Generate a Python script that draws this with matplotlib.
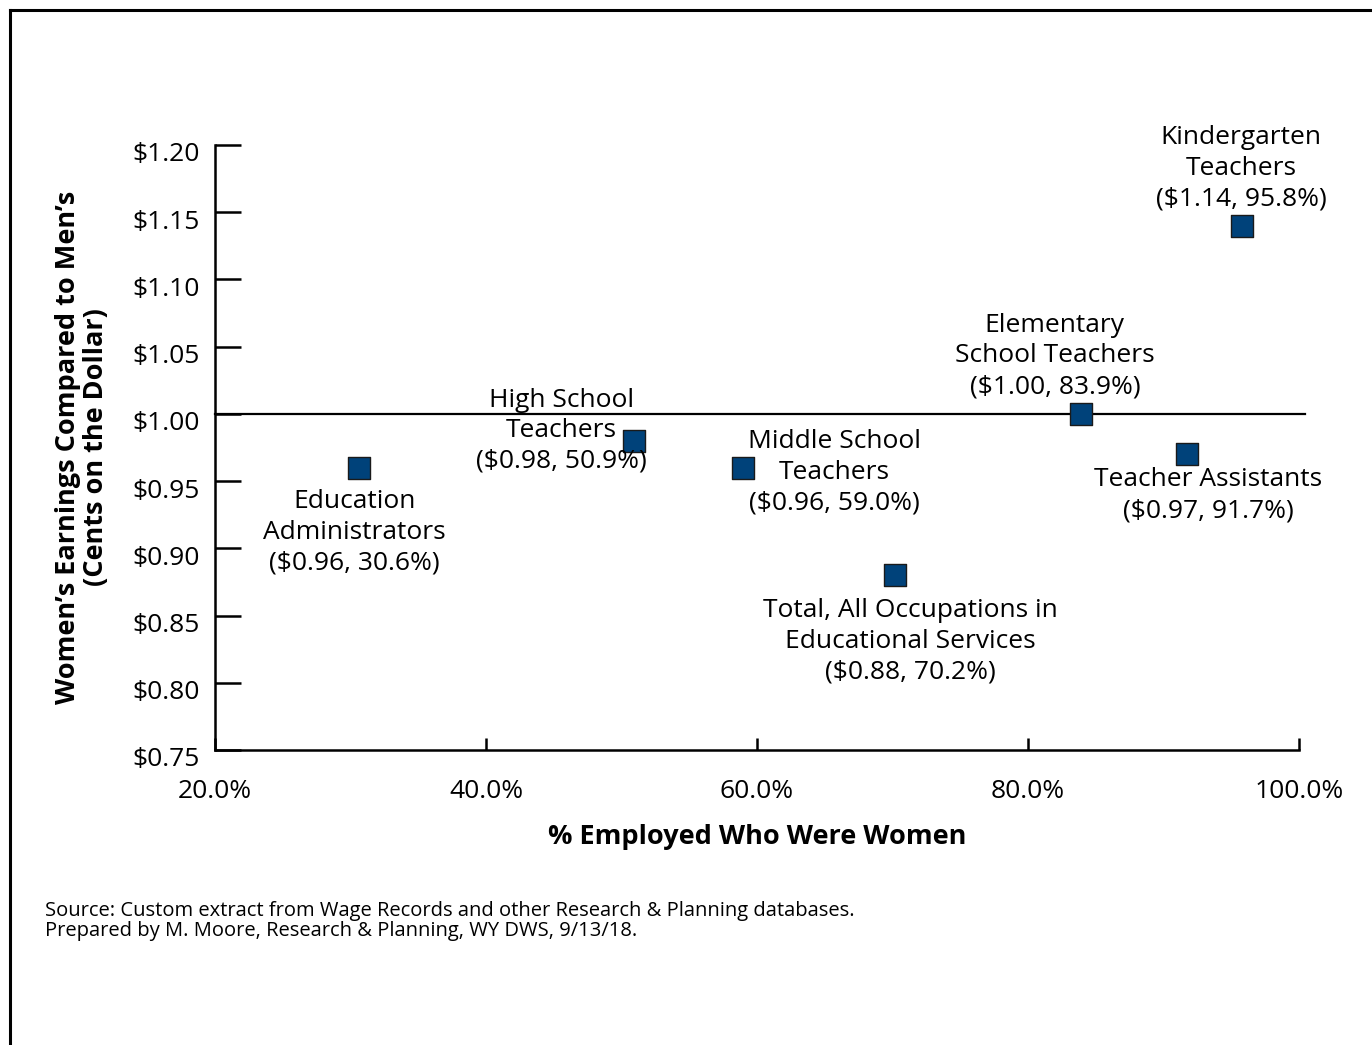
import matplotlib
matplotlib.use("Agg")
import matplotlib.pyplot as plt
import matplotlib.transforms as mtransforms
from matplotlib.lines import Line2D

plt.rcParams['font.family'] = ['Open Sans', 'DejaVu Sans']

# data
occupations = ["Education\nAdministrators", "High School\nTeachers", "Middle School\nTeachers",
               "Total, All Occupations in\nEducational Services", "Elementary\nSchool Teachers",
               "Teacher Assistants", "Kindergarten\nTeachers"]
pct_women = [30.6, 50.9, 59.0, 70.2, 83.9, 91.7, 95.8]
earnings = [0.96, 0.98, 0.96, 0.88, 1.00, 0.97, 1.14]
# label offsets (pixels) from each marker
offsets = [(-4, -65), (-72, 10), (91, -5), (15, -66), (-26, 58), (22, -41), (-1, 57)]

xticks = [20, 40, 60, 80, 100]
yticks = [0.75, 0.80, 0.85, 0.90, 0.95, 1.00, 1.05, 1.10, 1.15, 1.20]

fig = plt.figure(figsize=(13.72, 10.45), dpi=100)
ax = fig.add_axes([215/1372, 1-750/1045, (1299-215)/1372, (750-145)/1045])

ax.axhline(1.0, xmin=0, xmax=1.0055, color='black', lw=1.6, clip_on=False, zorder=1)
ax.scatter(pct_women, earnings, marker='s', s=230, color='#00427a',
           edgecolors='#1a1a1a', linewidths=1.0, zorder=3)

for name, x, y, (dx, dy) in zip(occupations, pct_women, earnings, offsets):
    lab = name + "\n(${:.2f}, {:.1f}%)".format(y, x)
    ax.annotate(lab, (x, y), xytext=(dx, dy), textcoords='offset pixels',
                ha='center', va='center', fontsize=19, linespacing=1.3)

ax.set_xlim(20, 100)
ax.set_ylim(0.75, 1.20)
ax.set_xticks(xticks)
ax.set_xticklabels(["{:.1f}%".format(v) for v in xticks])
ax.set_yticks(yticks)
ax.set_yticklabels(["${:.2f}".format(v) for v in yticks])

for s in ['top', 'right']:
    ax.spines[s].set_visible(False)
for s in ['left', 'bottom']:
    ax.spines[s].set_linewidth(1.8)

ax.tick_params(axis='y', direction='in', length=19, width=1.8, pad=11, labelsize=19)
ax.tick_params(axis='x', direction='in', length=9, width=1.8, pad=21, labelsize=19)

# y tick labels sit a little below their ticks in the original
shift = mtransforms.ScaledTranslation(0, -0.07, fig.dpi_scale_trans)
for lbl in ax.get_yticklabels():
    lbl.set_transform(lbl.get_transform() + shift)

ax.set_xlabel("% Employed Who Were Women", fontsize=19.5, fontweight='bold', labelpad=14)
ax.set_ylabel("Women\u2019s Earnings Compared to Men\u2019s\n(Cents on the Dollar)",
              fontsize=19.5, fontweight='bold', labelpad=17, linespacing=1.1)

fig.text(45/1372, 1-901/1045, "Source: Custom extract from Wage Records and other Research & Planning databases.\n"
         "Prepared by M. Moore, Research & Planning, WY DWS, 9/13/18.",
         fontsize=14.5, va='top', ha='left', linespacing=1.02)

# frame around the figure (top and left only visible)
fig.add_artist(Line2D([10/1372, 10/1372], [0, 1-10/1045], transform=fig.transFigure, color='black', lw=2.2))
fig.add_artist(Line2D([10/1372, 1], [1-10/1045, 1-10/1045], transform=fig.transFigure, color='black', lw=2.2))

fig.savefig("out.png", dpi=100)
